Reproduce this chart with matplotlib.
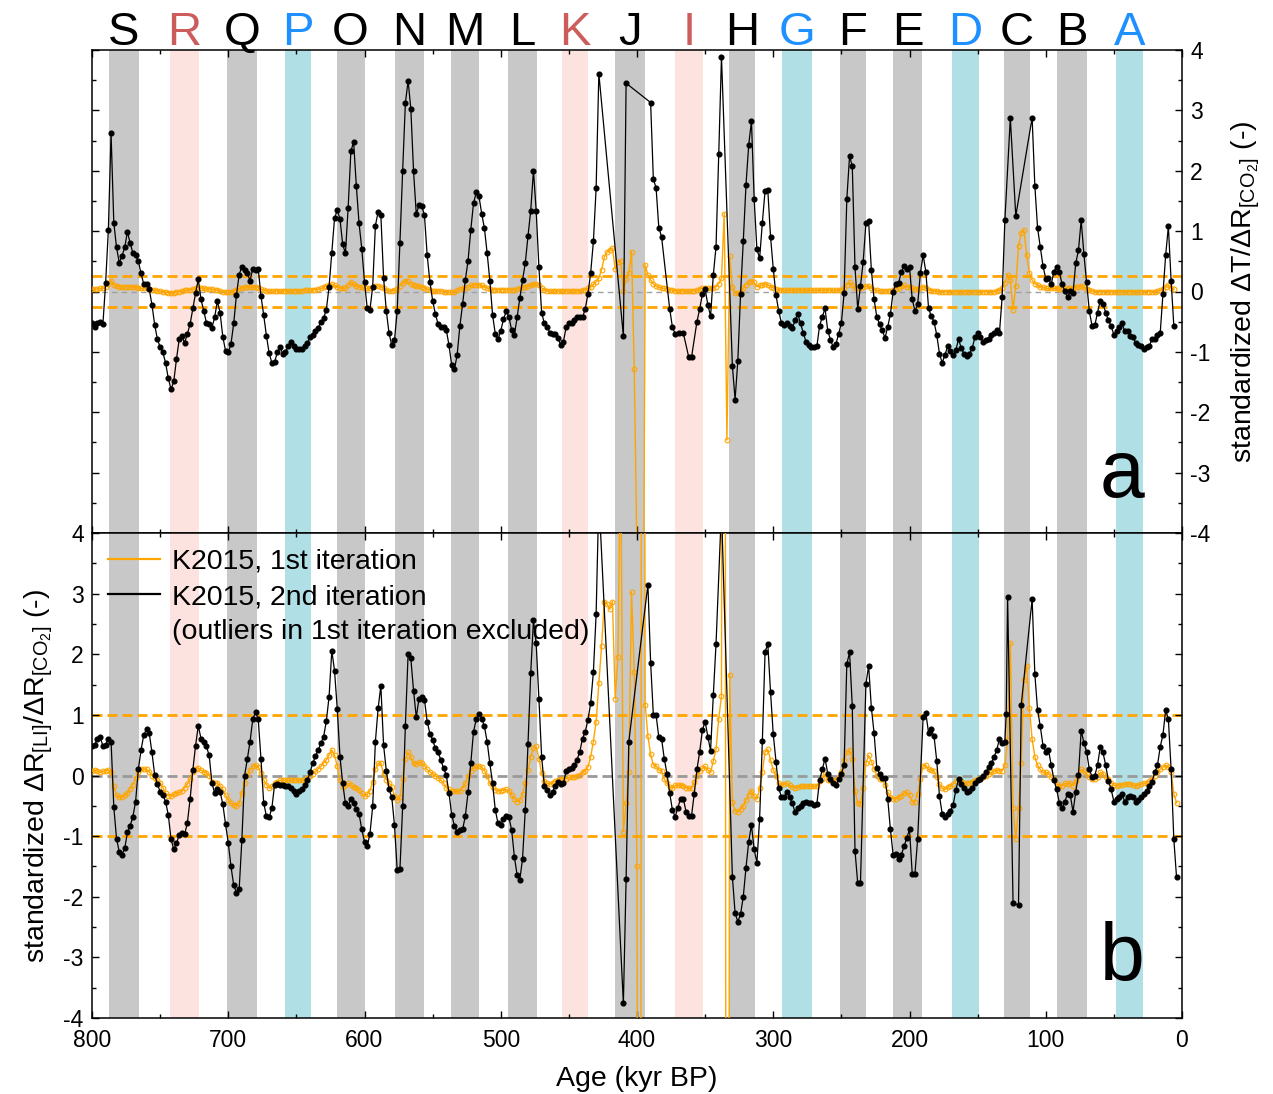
import numpy as np
import matplotlib
matplotlib.use("Agg")
import matplotlib.pyplot as plt
from matplotlib.ticker import MultipleLocator
import matplotlib.transforms as mtransforms
from matplotlib.lines import Line2D

plt.rcParams['font.family'] = ['Liberation Sans', 'DejaVu Sans']
plt.rcParams['mathtext.fontset'] = 'custom'
plt.rcParams['mathtext.rm'] = 'Liberation Sans'
plt.rcParams['mathtext.it'] = 'Liberation Sans:italic'
plt.rcParams['axes.unicode_minus'] = False

# ---------------- bands (stages) ----------------
band_letters = ['S', 'R', 'Q', 'P', 'O', 'N', 'M', 'L', 'K', 'J', 'I', 'H', 'G', 'F', 'E', 'D', 'C', 'B', 'A']
band_old = [787.5, 742.8, 701.0, 658.3, 620.4, 577.6, 536.3, 494.7, 454.8, 415.9, 372.1, 332.5, 293.6, 251.2, 212.1, 168.8, 130.6, 91.7, 48.4]
band_young = [765.5, 721.5, 679.0, 639.3, 600.0, 556.3, 516.0, 473.6, 435.7, 394.1, 351.3, 313.4, 271.8, 231.7, 190.8, 149.2, 111.6, 69.5, 28.4]
band_kind = ['g', 'p', 'g', 'c', 'g', 'g', 'g', 'g', 'p', 'g', 'p', 'g', 'c', 'g', 'g', 'c', 'g', 'g', 'c']

# ---------------- panel a, 2nd iteration (black) ----------------
a2_age = [800, 798, 796, 794, 792, 790, 788, 786, 784, 782, 780, 778, 776, 774, 772, 770, 768, 766, 764, 762,
          760, 758, 756, 754, 752, 750, 748, 746, 744, 742, 740, 738, 736, 734, 732, 730, 728, 726, 724, 722,
          720, 718, 716, 714, 712, 710, 708, 706, 704, 702, 700, 698, 696, 694, 692, 690, 688, 686, 684, 682,
          680, 678, 676, 674, 672, 670, 668, 666, 664, 662, 660, 658, 656, 654, 652, 650, 648, 646, 644, 642,
          640, 638, 636, 634, 632, 630, 628, 626, 624, 622, 620, 618, 616, 614, 612, 610, 608, 606, 604, 602,
          600, 598, 596, 594, 592, 590, 588, 586, 584, 582, 580, 578, 576, 574, 572, 570, 568, 566, 564, 562,
          560, 558, 556, 554, 552, 550, 548, 546, 544, 542, 540, 538, 536, 534, 532, 530, 528, 526, 524, 522,
          520, 518, 516, 514, 512, 510, 508, 506, 504, 502, 500, 498, 496, 494, 492, 490, 488, 486, 484, 482,
          480, 478, 476, 474, 472, 470, 468, 466, 464, 462, 460, 458, 456, 454, 452, 450, 448, 446, 444, 442,
          440, 438, 436, 434, 432, 430, 428, 410, 408, 390, 388, 386, 384, 382, 376, 374, 372, 369, 366, 362,
          360, 356, 354, 352, 350, 348, 346, 344, 342, 340, 338, 330, 328, 326, 324, 322, 320, 318, 316, 314,
          312, 310, 308, 306, 304, 302, 300, 298, 296, 294, 292, 290, 288, 286, 284, 282, 280, 278, 276, 274,
          272, 270, 268, 266, 264, 262, 260, 258, 256, 254, 252, 250, 248, 246, 244, 242, 240, 238, 236, 234,
          232, 230, 228, 226, 224, 222, 220, 218, 216, 214, 212, 210, 208, 206, 204, 202, 200, 198, 196, 194,
          192, 190, 188, 186, 184, 182, 180, 178, 176, 174, 172, 170, 168, 166, 164, 162, 160, 158, 156, 154,
          152, 150, 148, 146, 144, 142, 140, 138, 136, 134, 132, 130, 126, 122, 110, 108, 106, 104, 102, 100,
          98, 96, 94, 92, 90, 88, 86, 84, 82, 80, 78, 76, 74, 72, 70, 68, 66, 64, 62, 60,
          58, 56, 54, 52, 50, 48, 46, 44, 42, 40, 38, 36, 34, 32, 30, 28, 26, 24, 22, 20,
          18, 16, 14, 12, 10, 8, 6]
a2_val = [-0.52, -0.58, -0.53, -0.50, -0.54, 0.14, 1.02, 2.62, 1.14, 0.73, 0.48, 0.59, 0.73, 0.99, 0.80, 0.64, 0.60, 0.50, 0.30, 0.12,
          0.13, 0.04, -0.22, -0.55, -0.79, -0.92, -1.01, -1.18, -1.44, -1.62, -1.49, -1.12, -0.79, -0.74, -0.85, -0.70, -0.54, -0.28, -0.03, 0.20,
          -0.13, -0.32, -0.52, -0.54, -0.60, -0.43, -0.16, -0.35, -0.75, -0.98, -1.01, -0.87, -0.53, -0.06, 0.28, 0.41, 0.35, 0.30, 0.18, 0.38,
          0.36, 0.38, -0.07, -0.39, -0.73, -1.02, -1.18, -1.17, -1.01, -0.92, -1.03, -1.01, -0.90, -0.83, -0.90, -0.96, -0.96, -0.96, -0.91, -0.86,
          -0.76, -0.72, -0.66, -0.61, -0.50, -0.44, -0.30, 0.08, 0.64, 1.21, 1.35, 1.20, 0.78, 0.63, 1.39, 2.32, 2.48, 1.75, 1.13, 0.71,
          0.16, -0.28, -0.30, 0.08, 1.09, 1.32, 1.27, 0.23, -0.32, -0.69, -0.89, -0.81, -0.32, 0.81, 2.00, 3.12, 3.49, 3.03, 1.99, 1.28,
          1.43, 1.42, 1.26, 0.60, 0.16, -0.15, -0.37, -0.54, -0.58, -0.59, -0.63, -0.89, -1.22, -1.29, -1.05, -0.57, -0.21, 0.19, 0.51, 1.02,
          1.46, 1.64, 1.58, 1.29, 1.05, 0.64, 0.18, -0.39, -0.70, -0.79, -0.65, -0.46, -0.33, -0.42, -0.64, -0.72, -0.43, -0.11, 0.19, 0.47,
          0.92, 1.34, 2.00, 1.34, 0.41, -0.35, -0.53, -0.59, -0.68, -0.70, -0.71, -0.77, -0.89, -0.83, -0.59, -0.53, -0.52, -0.47, -0.42, -0.42,
          -0.43, -0.29, -0.04, 0.31, 0.83, 1.71, 3.61, -0.74, 3.45, 3.13, 1.86, 1.72, 1.06, 0.91, -0.29, -0.59, -0.70, -0.69, -0.69, -1.09,
          -1.09, -0.50, -0.29, -0.04, 0.04, -0.22, -0.41, 0.27, 0.74, 2.28, 3.89, -1.23, -1.79, -1.15, -0.04, 0.83, 1.77, 2.43, 2.82, 1.53,
          0.70, 0.55, 1.14, 1.67, 1.68, 0.91, 0.38, -0.06, -0.32, -0.52, -0.55, -0.53, -0.57, -0.61, -0.48, -0.37, -0.53, -0.68, -0.83, -0.89,
          -0.92, -0.92, -0.91, -0.57, -0.42, -0.28, -0.65, -0.80, -0.92, -0.87, -0.70, -0.52, -0.03, 1.53, 2.24, 2.08, 0.40, -0.29, 0.09, 0.49,
          1.13, 1.16, 0.36, -0.13, -0.42, -0.54, -0.64, -0.77, -0.59, -0.37, 0.00, 0.12, 0.14, 0.33, 0.42, 0.38, 0.41, -0.13, -0.32, -0.21,
          0.31, 0.60, 0.33, -0.28, -0.41, -0.50, -0.72, -1.03, -1.18, -1.05, -0.91, -0.99, -1.05, -0.97, -0.79, -0.94, -1.03, -1.07, -1.03, -0.94,
          -0.76, -0.69, -0.75, -0.83, -0.81, -0.79, -0.72, -0.68, -0.64, -0.69, -0.09, 1.18, 2.87, 1.25, 2.88, 1.75, 1.05, 0.74, 0.42, 0.21,
          0.22, 0.12, 0.33, 0.41, 0.32, 0.12, 0.01, -0.09, 0.01, -0.03, 0.47, 0.68, 1.18, 0.62, 0.15, -0.33, -0.57, -0.56, -0.35, -0.15,
          -0.20, -0.35, -0.48, -0.57, -0.72, -0.65, -0.59, -0.53, -0.66, -0.65, -0.74, -0.76, -0.85, -0.89, -0.91, -0.96, -0.92, -0.90, -0.79, -0.79,
          -0.72, -0.69, -0.04, 0.60, 1.08, 0.18, -0.57]

# ---------------- panel a, 1st iteration (orange), every 2 kyr from 800 ----------------
a1_val = [0.04, 0.04, 0.04, 0.05, 0.05, 0.08, 0.12, 0.18, 0.11, 0.09,
          0.08, 0.08, 0.08, 0.08, 0.08, 0.07, 0.07, 0.06, 0.05, 0.05,
          0.05, 0.04, 0.03, 0.02, 0.01, 0.01, 0.00, -0.01, -0.02, -0.03,
          -0.02, -0.01, 0.00, 0.01, 0.02, 0.02, 0.03, 0.04, 0.06, 0.07,
          0.06, 0.05, 0.04, 0.04, 0.04, 0.03, 0.02, 0.01, 0.00, -0.01,
          -0.01, 0.00, 0.01, 0.03, 0.05, 0.06, 0.07, 0.07, 0.07, 0.07,
          0.07, 0.06, 0.04, 0.02, 0.01, 0.01, 0.01, 0.01, 0.01, 0.01,
          0.01, 0.01, 0.01, 0.01, 0.01, 0.01, 0.01, 0.01, 0.02, 0.02,
          0.02, 0.03, 0.03, 0.04, 0.05, 0.07, 0.09, 0.11, 0.12, 0.10,
          0.08, 0.06, 0.05, 0.05, 0.10, 0.16, 0.12, 0.09, 0.08, 0.07,
          0.05, 0.05, 0.05, 0.07, 0.09, 0.09, 0.08, 0.05, 0.02, 0.01,
          0.01, 0.02, 0.04, 0.09, 0.14, 0.18, 0.17, 0.13, 0.10, 0.09,
          0.09, 0.08, 0.06, 0.04, 0.02, 0.01, 0.01, 0.01, 0.01, 0.00,
          0.00, -0.01, -0.01, 0.00, 0.02, 0.04, 0.05, 0.06, 0.08, 0.10,
          0.11, 0.11, 0.11, 0.10, 0.08, 0.06, 0.04, 0.03, 0.03, 0.03,
          0.03, 0.03, 0.03, 0.03, 0.03, 0.03, 0.04, 0.05, 0.07, 0.08,
          0.09, 0.10, 0.12, 0.13, 0.10, 0.06, 0.03, 0.01, 0.01, 0.01,
          0.01, 0.01, 0.01, 0.01, 0.01, 0.01, 0.01, 0.01, 0.01, 0.01,
          0.02, 0.03, 0.05, 0.08, 0.12, 0.16, 0.22, 0.36, 0.57, 0.65,
          0.69, 0.72, 0.37, 0.49, 0.51, 0.01, 0.20, 0.30, 0.66, -1.29,
          -4.4, -9.0, -9.0, 0.44, 0.27, 0.19, 0.13, 0.09, 0.07, 0.06,
          0.05, 0.04, 0.03, 0.02, 0.01, 0.01, 0.01, 0.01, 0.01, 0.01,
          0.01, 0.01, 0.02, 0.04, 0.05, 0.05, 0.05, 0.05, 0.06, 0.08,
          0.13, 0.22, 1.29, -2.46, 0.58, 0.07, -0.03, -0.02, 0.00, 0.05,
          0.11, 0.15, 0.18, 0.15, 0.08, 0.10, 0.11, 0.13, 0.11, 0.08,
          0.06, 0.04, 0.03, 0.02, 0.02, 0.02, 0.02, 0.02, 0.02, 0.02,
          0.02, 0.02, 0.02, 0.02, 0.02, 0.02, 0.02, 0.02, 0.02, 0.03,
          0.02, 0.02, 0.02, 0.02, 0.02, 0.03, 0.05, 0.11, 0.15, 0.10,
          0.05, 0.05, 0.06, 0.08, 0.09, 0.09, 0.06, 0.03, 0.02, 0.01,
          0.01, 0.01, 0.01, 0.01, 0.02, 0.04, 0.06, 0.09, 0.10, 0.08,
          0.07, 0.05, 0.04, 0.04, 0.06, 0.08, 0.06, 0.03, 0.01, 0.01,
          0.01, 0.00, 0.00, 0.00, 0.00, 0.00, 0.00, 0.00, 0.00, 0.00,
          0.00, 0.00, 0.00, 0.00, 0.00, 0.00, 0.00, 0.00, 0.00, 0.00,
          0.00, 0.00, 0.01, 0.02, 0.06, 0.14, 0.27, 0.19, -0.30, 0.09,
          0.75, 0.97, 1.02, 0.60, 0.31, 0.19, 0.13, 0.11, 0.08, 0.07,
          0.05, 0.05, 0.05, 0.05, 0.05, 0.04, 0.04, 0.05, 0.05, 0.05,
          0.06, 0.07, 0.08, 0.09, 0.07, 0.04, 0.02, 0.01, 0.00, 0.00,
          0.00, 0.00, 0.00, 0.00, 0.00, 0.00, 0.00, 0.00, 0.00, 0.00,
          0.00, 0.00, 0.00, 0.00, 0.00, 0.00, 0.00, 0.00, 0.00, 0.00,
          0.00, 0.01, 0.02, 0.04, 0.08, 0.11, 0.05, 0.04]

# ---------------- panel b, 2nd iteration (black) ----------------
b2_age = [800, 798, 796, 794, 792, 790, 788, 786, 784, 782, 780, 778, 776, 774, 772, 770, 768, 766, 764, 762,
          760, 758, 756, 754, 752, 750, 748, 746, 744, 742, 740, 738, 736, 734, 732, 730, 728, 726, 724, 722,
          720, 718, 716, 714, 712, 710, 708, 706, 704, 702, 700, 698, 696, 694, 692, 690, 688, 686, 684, 682,
          680, 678, 676, 674, 672, 670, 668, 666, 664, 662, 660, 658, 656, 654, 652, 650, 648, 646, 644, 642,
          640, 638, 636, 634, 632, 630, 628, 626, 624, 622, 620, 618, 616, 614, 612, 610, 608, 606, 604, 602,
          600, 598, 596, 594, 592, 590, 588, 586, 584, 582, 580, 578, 576, 574, 572, 570, 568, 566, 564, 562,
          560, 558, 556, 554, 552, 550, 548, 546, 544, 542, 540, 538, 536, 534, 532, 530, 528, 526, 524, 522,
          520, 518, 516, 514, 512, 510, 508, 506, 504, 502, 500, 498, 496, 494, 492, 490, 488, 486, 484, 482,
          480, 478, 476, 474, 472, 470, 468, 466, 464, 462, 460, 458, 456, 454, 452, 450, 448, 446, 444, 442,
          440, 438, 436, 434, 432, 430, 428, 410, 408, 406, 392, 390, 388, 386, 384, 382, 380, 378, 376, 374,
          372, 370, 368, 366, 364, 362, 360, 358, 356, 354, 352, 350, 348, 346, 344, 342, 338, 330, 328, 326,
          324, 322, 320, 318, 316, 314, 312, 310, 308, 306, 304, 302, 300, 298, 296, 294, 292, 290, 288, 286,
          284, 282, 280, 278, 276, 274, 272, 270, 268, 266, 264, 262, 260, 258, 256, 254, 252, 250, 248, 246,
          244, 242, 240, 238, 236, 232, 230, 228, 226, 224, 222, 220, 218, 216, 214, 212, 210, 208, 206, 204,
          202, 200, 198, 196, 194, 190, 188, 186, 184, 182, 180, 178, 176, 174, 172, 170, 168, 166, 164, 162,
          160, 158, 156, 154, 152, 150, 148, 146, 144, 142, 140, 138, 136, 134, 132, 130, 129, 128, 124, 120,
          118, 110, 108, 106, 104, 102, 100, 98, 96, 94, 92, 90, 88, 86, 84, 82, 80, 78, 76, 74,
          72, 70, 68, 66, 64, 62, 60, 58, 56, 54, 52, 50, 48, 46, 44, 42, 40, 38, 36, 34,
          32, 30, 28, 26, 24, 22, 20, 18, 16, 14, 12, 10, 8, 6, 4]
b2_val = [0.49, 0.50, 0.61, 0.63, 0.49, 0.50, 0.61, 0.56, -0.52, -1.04, -1.26, -1.31, -1.20, -0.94, -0.83, -0.68, -0.43, 0.10, 0.42, 0.67,
          0.76, 0.70, 0.38, 0.01, -0.14, -0.27, -0.32, -0.43, -0.65, -1.05, -1.22, -1.12, -0.98, -0.95, -0.97, -0.78, -0.39, 0.09, 0.49, 0.82,
          0.61, 0.56, 0.48, 0.33, -0.12, -0.29, -0.23, -0.27, -0.47, -0.80, -1.11, -1.50, -1.81, -1.93, -1.88, -1.06, 0.00, 0.27, 0.56, 0.93,
          1.04, 0.93, 0.28, -0.45, -0.67, -0.69, -0.54, -0.15, -0.14, -0.15, -0.16, -0.17, -0.17, -0.20, -0.26, -0.30, -0.26, -0.23, -0.15, -0.08,
          0.05, 0.20, 0.32, 0.42, 0.53, 0.64, 0.90, 1.30, 2.06, 1.73, 1.10, 0.31, -0.13, -0.46, -0.51, -0.38, -0.46, -0.55, -0.63, -0.89,
          -1.09, -1.17, -0.96, -0.51, 0.56, 1.11, 1.48, 0.50, 0.08, -0.23, -0.35, -0.82, -1.56, -1.55, -0.51, 0.82, 2.00, 1.93, 1.40, 0.96,
          1.27, 1.29, 1.25, 0.89, 0.69, 0.59, 0.45, 0.38, 0.26, 0.12, 0.01, -0.29, -0.65, -0.83, -0.93, -0.90, -0.89, -0.67, -0.28, 0.20,
          0.72, 0.93, 1.02, 0.94, 0.81, 0.56, 0.20, -0.13, -0.57, -0.79, -0.82, -0.71, -0.67, -0.69, -0.90, -1.34, -1.64, -1.72, -1.37, -0.57,
          0.52, 1.69, 2.56, 2.18, 1.27, 0.31, -0.17, -0.24, -0.32, -0.27, -0.18, -0.10, -0.14, -0.13, 0.08, 0.10, 0.13, 0.17, 0.26, 0.39,
          0.61, 0.72, 0.92, 1.19, 1.71, 2.66, 4.60, -3.76, -1.71, 0.56, 3.15, 1.86, 1.00, 1.00, 0.63, 0.61, 0.28, 0.03, -0.29, -0.57,
          -0.68, -0.53, -0.38, -0.38, -0.60, -0.67, -0.67, -0.30, 0.10, 0.39, 0.75, 0.89, 0.64, 0.41, 1.32, 2.17, 4.40, -1.67, -2.27, -2.41,
          -2.29, -2.00, -1.52, -1.09, -0.82, -1.22, -1.44, -0.71, 0.57, 2.04, 2.17, 1.38, 0.68, 0.23, -0.21, -0.35, -0.36, -0.27, -0.35, -0.46,
          -0.60, -0.54, -0.51, -0.45, -0.43, -0.45, -0.46, -0.49, -0.47, -0.08, 0.10, 0.28, 0.03, -0.05, -0.13, -0.16, -0.05, 0.03, 0.17, 1.84,
          2.03, 1.15, -1.24, -1.78, -1.78, 1.51, 1.81, 1.12, 0.70, 0.12, 0.03, -0.04, -0.04, -0.38, -0.89, -1.31, -1.30, -1.37, -1.31, -1.17,
          -1.03, -0.89, -1.62, -1.62, -1.04, 0.96, 1.03, 0.70, 0.76, 0.65, 0.24, -0.34, -0.63, -0.69, -0.63, -0.58, -0.49, -0.24, -0.06, -0.14,
          -0.21, -0.27, -0.25, -0.20, -0.12, -0.07, -0.05, 0.00, 0.05, 0.14, 0.20, 0.30, 0.42, 0.60, 0.54, 0.56, 1.02, 2.95, -2.10, -2.14,
          1.16, 2.91, 1.67, 1.08, 0.81, 0.49, 0.39, 0.42, 0.17, -0.07, -0.23, -0.45, -0.54, -0.43, -0.30, -0.32, -0.60, -0.27, 0.01, 0.74,
          0.54, 0.39, 0.10, -0.02, 0.00, 0.17, 0.47, 0.38, 0.17, -0.09, -0.23, -0.43, -0.39, -0.35, -0.31, -0.43, -0.35, -0.34, -0.35, -0.43,
          -0.40, -0.35, -0.30, -0.25, -0.17, -0.10, 0.05, 0.17, 0.47, 0.67, 1.08, 0.93, 0.10, -1.05, -1.68]

# ---------------- panel b, 1st iteration (orange), every 2 kyr from 800 ----------------
b1_val = [0.07, 0.09, 0.07, 0.05, 0.07, 0.08, 0.09, 0.06, -0.18, -0.32,
          -0.35, -0.36, -0.32, -0.29, -0.23, -0.15, -0.04, 0.06, 0.10, 0.11,
          0.10, 0.06, 0.00, -0.04, -0.08, -0.12, -0.20, -0.29, -0.33, -0.34,
          -0.31, -0.29, -0.28, -0.26, -0.20, -0.14, -0.06, 0.06, 0.10, 0.12,
          0.09, 0.06, 0.04, 0.00, -0.10, -0.12, -0.13, -0.17, -0.23, -0.32,
          -0.40, -0.46, -0.49, -0.50, -0.46, -0.29, -0.13, 0.01, 0.09, 0.15,
          0.17, 0.14, 0.04, -0.07, -0.15, -0.21, -0.18, -0.13, -0.10, -0.08,
          -0.08, -0.08, -0.08, -0.08, -0.08, -0.08, -0.08, -0.08, -0.07, -0.04,
          0.00, 0.03, 0.07, 0.11, 0.15, 0.21, 0.26, 0.34, 0.42, 0.34,
          0.15, -0.08, -0.19, -0.15, -0.13, -0.16, -0.19, -0.21, -0.24, -0.29,
          -0.34, -0.31, -0.25, -0.10, 0.10, 0.20, 0.20, 0.02, -0.07, -0.12,
          -0.19, -0.33, -0.41, -0.36, -0.05, 0.28, 0.38, 0.30, 0.20, 0.19,
          0.22, 0.21, 0.16, 0.10, 0.06, 0.03, 0.00, -0.04, -0.08, -0.12,
          -0.20, -0.23, -0.26, -0.26, -0.26, -0.25, -0.21, -0.13, -0.01, 0.08,
          0.12, 0.15, 0.16, 0.14, 0.08, -0.01, -0.13, -0.19, -0.24, -0.25,
          -0.25, -0.24, -0.23, -0.25, -0.32, -0.39, -0.43, -0.41, -0.31, -0.12,
          0.09, 0.30, 0.46, 0.48, 0.28, 0.04, -0.09, -0.13, -0.14, -0.12,
          -0.09, -0.08, -0.06, -0.05, -0.05, -0.03, -0.03, -0.02, 0.00, 0.01,
          0.05, 0.08, 0.14, 0.31, 0.56, 0.89, 1.52, 2.14, 2.87, 2.83,
          2.74, 2.87, 1.27, 1.95, 5.5, -0.93, -0.45, 0.06, 3.02, 1.71,
          -1.50, -30.0, 30.0, 1.16, 0.65, 0.35, 0.17, 0.16, 0.09, 0.08,
          -0.06, -0.13, -0.19, -0.21, -0.16, -0.16, -0.16, -0.17, -0.20, -0.21,
          -0.21, -0.10, 0.00, 0.07, 0.12, 0.15, 0.09, 0.05, 0.24, 0.43,
          0.94, 1.31, 30.0, -30.0, 1.66, -0.43, -0.58, -0.60, -0.56, -0.50,
          -0.41, -0.32, -0.25, -0.34, -0.39, -0.21, 0.06, 0.39, 0.43, 0.26,
          0.09, 0.00, -0.12, -0.16, -0.14, -0.13, -0.16, -0.19, -0.20, -0.19,
          -0.18, -0.18, -0.18, -0.18, -0.18, -0.18, -0.18, -0.09, -0.05, 0.02,
          -0.07, -0.08, -0.08, -0.07, -0.03, 0.06, 0.25, 0.38, 0.42, 0.28,
          -0.25, -0.45, -0.47, -0.20, 0.20, 0.33, 0.23, 0.11, 0.00, -0.05,
          -0.06, -0.16, -0.27, -0.35, -0.38, -0.38, -0.35, -0.33, -0.29, -0.28,
          -0.32, -0.43, -0.43, -0.30, -0.05, 0.16, 0.17, 0.10, 0.09, 0.08,
          -0.02, -0.14, -0.21, -0.23, -0.19, -0.18, -0.14, -0.09, -0.05, -0.09,
          -0.13, -0.12, -0.12, -0.10, -0.07, -0.06, -0.05, -0.03, 0.00, 0.02,
          0.05, 0.07, 0.09, 0.08, 0.08, 0.17, 0.59, 2.19, -0.54, -1.04,
          -0.54, 0.20, 1.58, 1.81, 1.11, 0.60, 0.31, 0.17, 0.10, 0.05,
          0.05, 0.03, -0.03, -0.05, -0.14, -0.18, -0.17, -0.13, -0.14, -0.13,
          -0.17, -0.09, 0.00, 0.10, 0.07, 0.03, -0.03, -0.06, -0.06, -0.03,
          0.05, 0.03, -0.03, -0.06, -0.12, -0.16, -0.17, -0.16, -0.16, -0.14,
          -0.14, -0.14, -0.16, -0.17, -0.16, -0.14, -0.13, -0.12, -0.09, -0.05,
          0.00, 0.05, 0.10, 0.14, 0.17, 0.14, 0.06, -0.30, -0.45]

ORANGE = '#ffa500'
GREY_BAND = '#c8c8c8'
PINK_BAND = '#fde3e0'
CYAN_BAND = '#b0dfe5'
band_colors = {'g': GREY_BAND, 'p': PINK_BAND, 'c': CYAN_BAND}
letter_colors = {'g': 'black', 'p': '#cd5c5c', 'c': '#1e90ff'}

a1_age = 800 - 2 * np.arange(len(a1_val))
b1_age = 800 - 2 * np.arange(len(b1_val))

W, H = 1273, 1094
fig = plt.figure(figsize=(W / 100, H / 100), dpi=100)
axA = fig.add_axes([92 / W, 1 - 533 / H, 1090 / W, 483 / H])
axB = fig.add_axes([92 / W, 1 - 1018 / H, 1090 / W, 485 / H])

for ax in (axA, axB):
    for o, y, k in zip(band_old, band_young, band_kind):
        ax.axvspan(y, o, color=band_colors[k], lw=0, zorder=0)
    ax.set_xlim(800, 0)
    ax.set_ylim(-4, 4)
    ax.xaxis.set_major_locator(MultipleLocator(100))
    ax.xaxis.set_minor_locator(MultipleLocator(50))
    ax.yaxis.set_major_locator(MultipleLocator(1))
    ax.yaxis.set_minor_locator(MultipleLocator(0.5))
    ax.tick_params(which='both', direction='in', top=True, bottom=True, left=True, right=True,
                   labelsize=16.5, width=1)
    ax.tick_params(which='major', length=5)
    ax.tick_params(which='minor', length=3)
    for s in ax.spines.values():
        s.set_linewidth(1.1)

# thresholds
axA.axhline(0, color='#a0a0a0', lw=1.0, dashes=(4, 3), zorder=1)
axA.axhline(0.25, color=ORANGE, lw=2, dashes=(3.6, 1.8), zorder=1)
axA.axhline(-0.25, color=ORANGE, lw=2, dashes=(3.6, 1.8), zorder=1)
axB.axhline(0, color='#999999', lw=2, dashes=(3.6, 1.8), zorder=1)
axB.axhline(1, color=ORANGE, lw=2, dashes=(3.6, 1.8), zorder=1)
axB.axhline(-1, color=ORANGE, lw=2, dashes=(3.6, 1.8), zorder=1)

okw = dict(color=ORANGE, lw=1.0, marker='o', ms=3.4, mfc='none', mec=ORANGE, mew=0.8, zorder=3)
kkw = dict(color='black', lw=0.9, marker='o', ms=3.4, zorder=4)

axA.plot(a1_age, a1_val, **okw)
axA.plot(a2_age, a2_val, **kkw)
axB.plot(b1_age, b1_val, **okw)
axB.plot(b2_age, b2_val, **kkw)

# tick labels
axA.tick_params(labelleft=False, labelright=True, labelbottom=False, pad=6)
axB.tick_params(labelleft=True, labelright=False, labelbottom=True, pad=6)
axB.tick_params(axis='x', pad=8)

axA.yaxis.set_label_position('right')
axA.set_ylabel(r'standardized $\Delta$T/$\Delta$R$_{[\mathrm{CO_2}]}$ (-)', fontsize=20.5, labelpad=14)
axB.set_ylabel(r'standardized $\Delta$R$_{[\mathrm{LI}]}$/$\Delta$R$_{[\mathrm{CO_2}]}$ (-)', fontsize=20.5, labelpad=6)
axB.set_xlabel('Age (kyr BP)', fontsize=20.5, labelpad=10)

# stage letters
trans = mtransforms.blended_transform_factory(axA.transData, axA.transAxes)
for L, o, y, k in zip(band_letters, band_old, band_young, band_kind):
    axA.text((o + y) / 2, 1.0104, L, transform=trans, ha='center', va='baseline',
             fontsize=34, color=letter_colors[k])

axA.text(0.945, 0.075, 'a', transform=axA.transAxes, ha='center', va='baseline', fontsize=58)
axB.text(0.945, 0.078, 'b', transform=axB.transAxes, ha='center', va='baseline', fontsize=58)

handles = [Line2D([], [], color=ORANGE, lw=1.6),
           Line2D([], [], color='black', lw=1.6),
           Line2D([], [], color='none', lw=0)]
labels = ['K2015, 1st iteration', 'K2015, 2nd iteration', '(outliers in 1st iteration excluded)']
leg = axB.legend(handles, labels, loc='upper left', frameon=False, fontsize=20.5,
                 handlelength=1.85, handletextpad=0.42, labelspacing=0.33,
                 borderpad=0.2, borderaxespad=0.35)
leg.set_zorder(10)

fig.savefig('out.png', dpi=100)
